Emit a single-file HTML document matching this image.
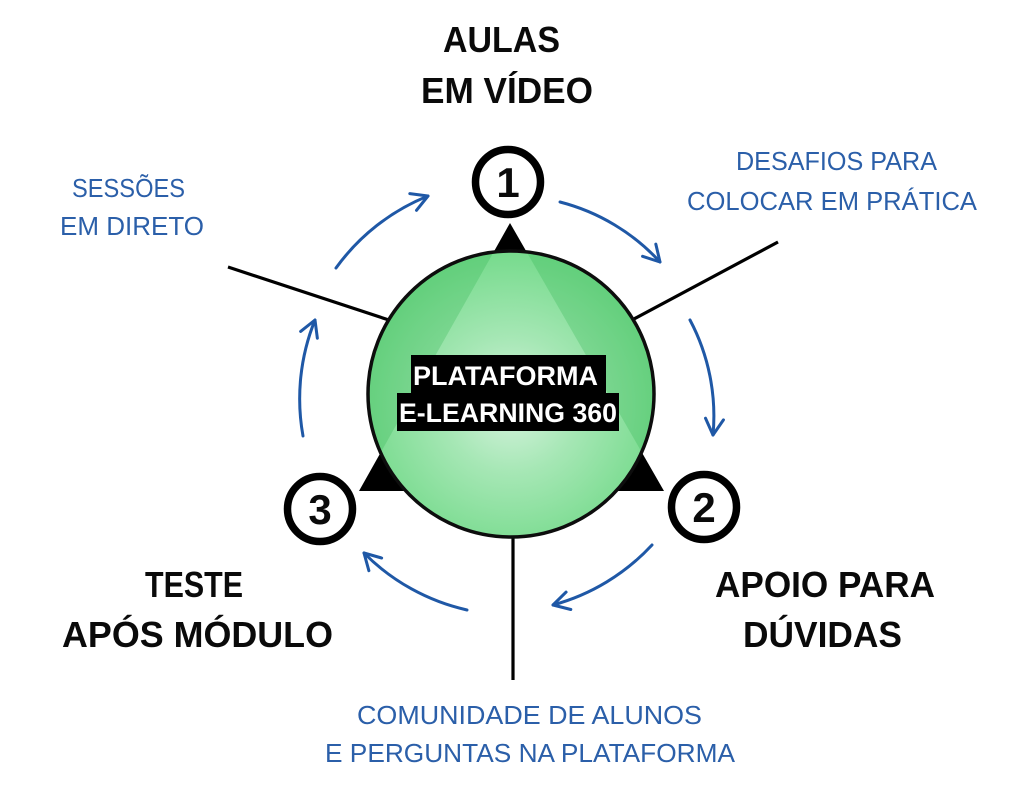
<!DOCTYPE html>
<html>
<head>
<meta charset="utf-8">
<style>
  html,body{margin:0;padding:0;background:#ffffff;}
  svg{display:block;}
  .bk{font-family:"Liberation Sans",Arial,sans-serif;font-weight:bold;fill:#0a0a0a;font-size:36px;}
  .bl{font-family:"Liberation Sans",Arial,sans-serif;fill:#2b5fa9;font-size:26px;}
  .wt{font-family:"Liberation Sans",Arial,sans-serif;font-weight:bold;fill:#ffffff;font-size:26.5px;}
  .nm{font-family:"Liberation Sans",Arial,sans-serif;font-weight:bold;fill:#0a0a0a;font-size:42px;}
</style>
</head>
<body>
<svg width="1024" height="794" viewBox="0 0 1024 794" xmlns="http://www.w3.org/2000/svg">
  <defs>
    <radialGradient id="g" cx="511" cy="405" r="150" gradientUnits="userSpaceOnUse">
      <stop offset="0" stop-color="#d6f3de"/>
      <stop offset="0.45" stop-color="#a6e7b5"/>
      <stop offset="1" stop-color="#78db8e"/>
    </radialGradient>
    <clipPath id="cc"><circle cx="511" cy="394" r="143"/></clipPath>
    <marker id="ah" markerUnits="userSpaceOnUse" markerWidth="26" markerHeight="26" viewBox="0 0 26 26" refX="21" refY="13" orient="auto">
      <path d="M5,4 L21,13 L5,22" fill="none" stroke="#1f58a6" stroke-width="3" stroke-linecap="round" stroke-linejoin="round"/>
    </marker>
  </defs>

  <!-- connector lines -->
  <line x1="228" y1="267" x2="392" y2="321" stroke="#000" stroke-width="3.2"/>
  <line x1="778" y1="242" x2="632" y2="320" stroke="#000" stroke-width="3.2"/>
  <line x1="513" y1="530" x2="513" y2="680" stroke="#000" stroke-width="3.2"/>

  <!-- black triangle -->
  <polygon points="510,223 359,491 664,491" fill="#000"/>

  <!-- green circle -->
  <circle cx="511" cy="394" r="143" fill="url(#g)"/>
  <g clip-path="url(#cc)">
    <polygon points="300,150 720,150 720,491 664,491 510,223 359,491 300,491" fill="#2fb24f" opacity="0.28"/>
  </g>
  <circle cx="511" cy="394" r="143" fill="none" stroke="#0d0d0d" stroke-width="3.5"/>

  <!-- center label -->
  <rect x="411" y="355" width="195" height="39" fill="#000"/>
  <rect x="397" y="393" width="222" height="38" fill="#000"/>
  <text class="wt" x="413" y="385" textLength="185" lengthAdjust="spacingAndGlyphs">PLATAFORMA</text>
  <text class="wt" x="399" y="422" textLength="218" lengthAdjust="spacingAndGlyphs">E-LEARNING 360</text>

  <!-- number circles -->
  <circle cx="508" cy="182" r="32.5" fill="#fff" stroke="#000" stroke-width="7.5"/>
  <text class="nm" x="508" y="197" text-anchor="middle">1</text>
  <circle cx="704" cy="507" r="32.5" fill="#fff" stroke="#000" stroke-width="7.5"/>
  <text class="nm" x="704" y="522" text-anchor="middle">2</text>
  <circle cx="320" cy="509" r="32.5" fill="#fff" stroke="#000" stroke-width="7.5"/>
  <text class="nm" x="320" y="524" text-anchor="middle">3</text>

  <!-- blue arrows -->
  <g fill="none" stroke="#1f58a6" stroke-width="3" stroke-linecap="round" marker-end="url(#ah)">
    <path d="M336,268 A210,210 0 0 1 428,196"/>
    <path d="M560,202 A205,205 0 0 1 660,262"/>
    <path d="M690,320 A205,205 0 0 1 713,435"/>
    <path d="M652,545 A210,210 0 0 1 553,605"/>
    <path d="M467,610 A210,210 0 0 1 364,553"/>
    <path d="M303,436 A210,210 0 0 1 315,320"/>
  </g>

  <!-- bold black titles -->
  <text class="bk" x="443" y="52" textLength="117" lengthAdjust="spacingAndGlyphs">AULAS</text>
  <text class="bk" x="421" y="103" textLength="172" lengthAdjust="spacingAndGlyphs">EM VÍDEO</text>

  <text class="bk" x="145" y="597" textLength="98" lengthAdjust="spacingAndGlyphs">TESTE</text>
  <text class="bk" x="62" y="647" textLength="271" lengthAdjust="spacingAndGlyphs">APÓS MÓDULO</text>

  <text class="bk" x="715" y="597" textLength="220" lengthAdjust="spacingAndGlyphs">APOIO PARA</text>
  <text class="bk" x="743" y="647" textLength="159" lengthAdjust="spacingAndGlyphs">DÚVIDAS</text>

  <!-- blue labels -->
  <text class="bl" x="72" y="197" textLength="113" lengthAdjust="spacingAndGlyphs">SESSÕES</text>
  <text class="bl" x="60" y="235" textLength="144" lengthAdjust="spacingAndGlyphs">EM DIRETO</text>

  <text class="bl" x="736" y="170" textLength="201" lengthAdjust="spacingAndGlyphs">DESAFIOS PARA</text>
  <text class="bl" x="687" y="210" textLength="290" lengthAdjust="spacingAndGlyphs">COLOCAR EM PRÁTICA</text>

  <text class="bl" x="357" y="724" textLength="345" lengthAdjust="spacingAndGlyphs">COMUNIDADE DE ALUNOS</text>
  <text class="bl" x="325" y="762" textLength="410" lengthAdjust="spacingAndGlyphs">E PERGUNTAS NA PLATAFORMA</text>
</svg>
</body>
</html>
